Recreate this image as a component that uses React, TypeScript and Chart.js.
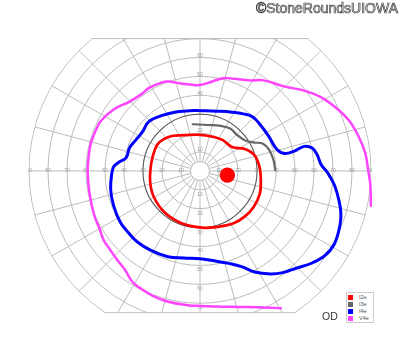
import React, { useEffect, useRef } from "react";
import { Chart, registerables } from "chart.js";

Chart.register(...registerables);

// ---- data (degrees of visual field; x = nasal/temporal, y = superior/inferior) ----
const seriesNames = ["I2e", "I3e", "I4e", "V4e"];
const seriesColors = ["#ff0000", "#666666", "#0000ff", "#ff44ff"];
const seriesWidths = [2.7, 2.2, 3, 2.5];

const i2eX = [-8.6, 0, 6.6, 11.8, 16.8, 23.6, 28.3, 31.1, 32.0, 31.4, 28.3, 23.8, 17.7, 9.1, 1.0, -10.1, -18.7, -24.3, -26.2, -26.0, -25.0, -22.5, -18.7, -14.2, -8.6];
const i2eY = [18.9, 19.1, 18.1, 16.4, 12.7, 11.6, 8.7, 2.9, -4.7, -12.3, -18.9, -23.9, -27.7, -29.6, -30.0, -27.5, -21.9, -13.8, -6.2, 1.4, 7.1, 13.9, 17.0, 18.6, 18.9];

const i3eX = [-3.8, 4.2, 11.0, 16.1, 19.4, 23.8, 28.7, 32.9, 36.3, 38.5, 39.6];
const i3eY = [24.7, 24.3, 23.8, 22.3, 19.1, 16.1, 15.0, 14.5, 11.3, 6.3, 0.6];

const i4eX = [-1.0, 9.1, 16.7, 22.8, 27.8, 32.0, 36.3, 40.5, 44.5, 49.7, 54.8, 59.0, 61.7, 63.7, 67.3, 70.8, 73.3, 74.1, 73.7, 70.8, 65.8, 59.0, 50.6, 43.5, 37.1, 28.7, 21.9, 15.2, 6.7, 0, -8.4, -16.8, -26.3, -32.9, -37.4, -42.0, -45.5, -47.0, -46.4, -45.3, -42.5, -38.8, -37.1, -33.7, -30.3, -26.8, -19.4, -12.6, -7.1, -1.0];
const i4eY = [32.0, 31.6, 31.1, 30.2, 28.5, 24.0, 18.1, 11.3, 9.2, 10.5, 13.0, 12.1, 8.4, 3.4, -1.2, -7.7, -16.5, -22.4, -28.3, -38.4, -44.7, -48.7, -51.5, -53.8, -54.5, -53.5, -50.6, -48.9, -47.4, -46.4, -46.0, -45.4, -41.8, -37.6, -33.0, -27.0, -18.2, -9.8, -1.3, 2.4, 4.7, 7.1, 12.2, 16.4, 20.6, 26.2, 29.5, 31.2, 31.7, 32.0];

const v4eX = [42.5, 33.9, 16.7, 0, -6.6, -16.7, -25.3, -30.4, -35.4, -39.5, -44.1, -47.2, -50.6, -52.7, -55.7, -58.2, -59.1, -58.7, -57.4, -54.8, -52.2, -45.6, -37.0, -30.4, -26.8, -20.3, -16.7, -10.1, -5.1, 0, 6.1, 12.2, 17.7, 26.2, 33.4, 44.7, 54.8, 63.3, 71.7, 78.5, 83.5, 86.9, 88.6, 89.6, 89.9];
const v4eY = [-72.6, -72.2, -71.9, -71.4, -71.0, -69.2, -65.8, -62.7, -58.9, -52.3, -46.3, -41.8, -36.8, -31.0, -23.3, -11.4, -0.2, 6.3, 14.7, 21.5, 26.4, 32.4, 36.7, 40.9, 43.9, 46.7, 47.3, 46.2, 45.7, 45.4, 47.2, 49.0, 48.8, 47.9, 47.9, 44.6, 42.5, 39.2, 33.3, 26.5, 18.1, 9.6, -0.5, -7.2, -18.4];

const blindSpotX = [14.4];
const blindSpotY = [-2.2];

// ---- grid description ----
const ringDegrees = [5, 10, 20, 30, 40, 50, 60, 70, 80, 90];
const meridianDegrees = [0, 15, 30, 45, 60, 75, 90, 105, 120, 135, 150, 165, 180, 195, 210, 225, 240, 255, 270, 285, 300, 315, 330, 345];
const horizontalTickLabels = [10, 20, 30, 40, 50, 60, 70, 80, 90];
const verticalTickLabels = [10, 20, 30, 40, 50, 60, 70];
const fieldTop = 70;
const fieldBottom = -75;
const outerRadius = 90;
const referenceRing = 30;
const innerRadius = 5;

const pxPerDeg = 1.977;
const centerPx = { x: 200, y: 170.7 };
const W = 400;
const H = 352;

const xSeries = [i2eX, i3eX, i4eX, v4eX];
const ySeries = [i2eY, i3eY, i4eY, v4eY];

const gridPlugin = {
  id: "perimetryGrid",
  beforeDatasetsDraw(chart: any) {
    const ctx = chart.ctx as CanvasRenderingContext2D;
    const xs = chart.scales.x;
    const ys = chart.scales.y;
    const cx = xs.getPixelForValue(0);
    const cy = ys.getPixelForValue(0);
    const kx = xs.getPixelForValue(1) - cx;
    const ky = cy - ys.getPixelForValue(1);
    const topY = ys.getPixelForValue(fieldTop);
    const botY = ys.getPixelForValue(fieldBottom);
    ctx.save();
    ctx.beginPath();
    ctx.rect(0, topY - 0.6, chart.width, botY - topY + 1.2);
    ctx.clip();
    ctx.beginPath();
    ctx.ellipse(cx, cy, outerRadius * kx + 0.6, outerRadius * ky + 0.6, 0, 0, Math.PI * 2);
    ctx.clip();

    ctx.lineWidth = 1;
    ctx.strokeStyle = "#bcbcbc";
    for (const r of ringDegrees) {
      if (r === referenceRing) continue;
      ctx.beginPath();
      ctx.ellipse(cx, cy, r * kx, r * ky, 0, 0, Math.PI * 2);
      ctx.stroke();
    }
    for (const a of meridianDegrees) {
      const rad = (a * Math.PI) / 180;
      ctx.beginPath();
      ctx.moveTo(cx + Math.cos(rad) * innerRadius * kx, cy - Math.sin(rad) * innerRadius * ky);
      ctx.lineTo(cx + Math.cos(rad) * outerRadius * kx, cy - Math.sin(rad) * outerRadius * ky);
      ctx.stroke();
    }
    ctx.beginPath();
    ctx.moveTo(cx - outerRadius * kx, topY);
    ctx.lineTo(cx + outerRadius * kx, topY);
    ctx.moveTo(cx - outerRadius * kx, botY);
    ctx.lineTo(cx + outerRadius * kx, botY);
    ctx.stroke();

    ctx.strokeStyle = "#555555";
    ctx.lineWidth = 1.1;
    ctx.beginPath();
    ctx.ellipse(cx, cy, referenceRing * kx, referenceRing * ky, 0, 0, Math.PI * 2);
    ctx.stroke();

    ctx.fillStyle = "#9a9a9a";
    ctx.font = "5px 'Liberation Sans', Arial, sans-serif";
    ctx.textAlign = "center";
    ctx.textBaseline = "middle";
    for (const t of horizontalTickLabels) {
      ctx.fillText(String(t), cx - t * kx, cy);
      ctx.fillText(String(t), cx + t * kx, cy);
    }
    for (const t of verticalTickLabels) {
      ctx.fillText(String(t), cx, cy - t * ky - 2);
      ctx.fillText(String(t), cx, cy + t * ky + 4.5);
    }
    ctx.restore();
  },
};

export default function App() {
  const canvasRef = useRef<HTMLCanvasElement | null>(null);

  useEffect(() => {
    if (!canvasRef.current) return;
    const datasets: any[] = seriesNames.map((name, i) => ({
      label: name,
      data: xSeries[i].map((x, j) => ({ x, y: ySeries[i][j] })),
      showLine: true,
      borderColor: seriesColors[i],
      backgroundColor: seriesColors[i],
      borderWidth: seriesWidths[i],
      pointRadius: 0,
      pointHoverRadius: 0,
      tension: 0.4,
      fill: false,
      borderCapStyle: "round",
      borderJoinStyle: "round",
    }));
    datasets.push({
      label: "I2e blind spot",
      data: blindSpotX.map((x, j) => ({ x, y: blindSpotY[j] })),
      showLine: false,
      pointRadius: 7.7,
      pointHoverRadius: 7.7,
      backgroundColor: seriesColors[0],
      borderWidth: 0,
    });

    const chart = new Chart(canvasRef.current, {
      type: "scatter",
      data: { datasets },
      options: {
        responsive: false,
        animation: false,
        devicePixelRatio: 1,
        layout: { padding: 0 },
        plugins: { legend: { display: false }, tooltip: { enabled: false }, title: { display: false } },
        scales: {
          x: { type: "linear", display: false, min: -centerPx.x / pxPerDeg, max: (W - centerPx.x) / pxPerDeg },
          y: { type: "linear", display: false, min: -(H - centerPx.y) / pxPerDeg, max: centerPx.y / pxPerDeg },
        },
      },
      plugins: [gridPlugin],
    });
    return () => chart.destroy();
  }, []);

  return (
    <div style={{ position: "fixed", left: 0, top: 0, width: W, height: H, background: "#ffffff", overflow: "hidden" }}>
      <canvas ref={canvasRef} width={W} height={H} style={{ display: "block", position: "absolute", left: 0, top: 0 }} />
      <div
        style={{
          position: "absolute",
          right: 2,
          top: 1.4,
          fontFamily: "'Liberation Sans', Arial, sans-serif",
          fontSize: 14,
          lineHeight: "14px",
          color: "#ececec",
          WebkitTextStroke: "0.7px #444444",
          whiteSpace: "nowrap",
        } as any}
      >
        ©StoneRoundsUIOWA
      </div>
      <div
        style={{
          position: "absolute",
          left: 322,
          top: 311.3,
          fontFamily: "'Liberation Sans', Arial, sans-serif",
          fontSize: 10.5,
          lineHeight: "10.5px",
          color: "#333333",
          whiteSpace: "nowrap",
        }}
      >
        OD
      </div>
      <div
        style={{
          position: "absolute",
          left: 345.5,
          top: 292,
          width: 26,
          height: 28,
          border: "1px solid #cccccc",
          background: "#ffffff",
          paddingTop: 0.5,
          boxSizing: "content-box",
        }}
      >
        {seriesNames.map((name, i) => (
          <div key={name} style={{ display: "flex", alignItems: "center", height: 7.2 }}>
            <span style={{ display: "inline-block", width: 5, height: 5, marginLeft: 1.5, background: seriesColors[i] }} />
            <span
              style={{
                marginLeft: 6,
                fontFamily: "'Liberation Sans', Arial, sans-serif",
                fontSize: 5.5,
                lineHeight: "7px",
                color: "#555555",
              }}
            >
              {name}
            </span>
          </div>
        ))}
      </div>
    </div>
  );
}
